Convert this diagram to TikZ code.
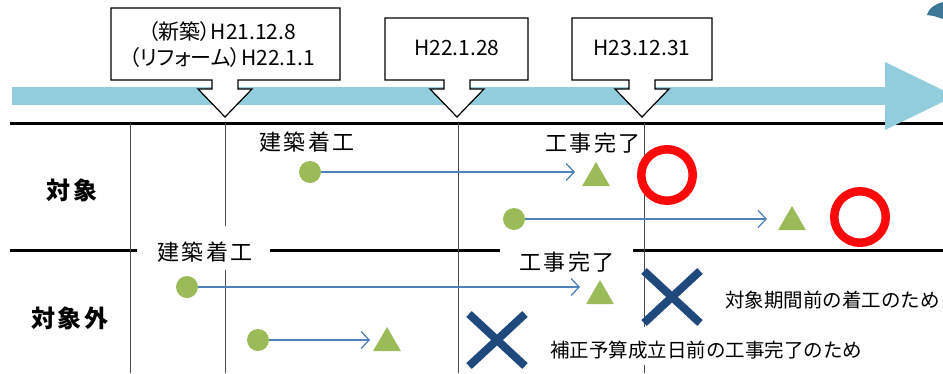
\documentclass[tikz,border=0pt]{standalone}
\usepackage{fontspec}
\setmainfont{Noto Sans CJK JP}
\newfontfamily\jpprop[RawFeature=+palt]{Noto Sans CJK JP}
\newfontfamily\jpwide[LetterSpace=10]{Noto Sans CJK JP}
\usetikzlibrary{positioning,calc,arrows.meta,shapes.geometric,shapes.misc}

\definecolor{bandblue}{RGB}{146,205,221}
\definecolor{dotgreen}{RGB}{155,187,89}
\definecolor{flowblue}{RGB}{79,129,189}
\definecolor{okred}{RGB}{250,10,10}
\definecolor{ngblue}{RGB}{31,73,125}
\definecolor{tagblue}{RGB}{60,120,150}

\tikzset{
	dot/.style={circle,fill=dotgreen,minimum size=22pt,inner sep=0pt},
	tri/.style={regular polygon,regular polygon sides=3,fill=dotgreen,minimum size=32pt,inner sep=0pt},
	okring/.style={circle,draw=okred,line width=8.5pt,minimum size=51.5pt,inner sep=0pt},
	ngcross/.style={cross out,draw=ngblue,line width=8pt,minimum width=48pt,minimum height=44pt,inner sep=0pt},
	flow/.style={draw=flowblue,line width=1.3pt,-{Straight Barb[length=8pt,width=17pt]}},
	lbl/.style={font=\jpwide\fontsize{22}{26}\selectfont,inner sep=0pt},
	note/.style={font=\fontsize{19.5}{23}\selectfont,inner sep=0pt,anchor=west},
	rowlbl/.style={font=\jpwide\fontsize{24}{28}\selectfont\bfseries,inner sep=0pt},
	datetxt/.style={font=\jpprop\fontsize{21}{26}\selectfont,align=center,inner sep=0pt},
	callout/.style={draw,fill=white,line width=1.2pt},
	sep/.style={line width=3pt},
	gridline/.style={draw=gray!60!black,line width=0.9pt}
}

\begin{document}
\begin{tikzpicture}[x=1pt,y=-1pt]
		\def\yBoxBot{80}
		\def\yStem{89}
		\def\yTip{117}
		\def\StemHalf{13}
		\def\HeadHalf{27}
		\def\yTop{123}
		\def\yMid{250}
		\def\yEnd{373}

\useasboundingbox (0,0) rectangle (943,373);

% separators and grid
\draw[sep] (10,\yTop) -- (943,\yTop);
\draw[sep] (10,\yMid) -- (137,\yMid);
\draw[sep] (270,\yMid) -- (500,\yMid);
\draw[sep] (633,\yMid) -- (943,\yMid);
\draw[gridline] (130,\yTop) -- (130,\yEnd);
\draw[gridline] (225,\yTop) -- (225,226) (225,270) -- (225,\yEnd);
\draw[gridline] (458,\yTop) -- (458,\yEnd);
\draw[gridline] (644,\yTop) -- (644,327) (644,365) -- (644,\yEnd);

% time band
\fill[bandblue] (12,87) rectangle (887,105);
\fill[bandblue] (885,62) -- (955,96) -- (885,130) -- cycle;
\fill[tagblue] (943,2) .. controls (935,4) and (928,9) .. (927,15) -- (934,16) .. controls (938,17) .. (943,19) -- cycle;

% date flags
\draw[callout] (111,8) -- (340,8) -- (340,\yBoxBot) -- (225+\StemHalf,\yBoxBot) -- (225+\StemHalf,\yStem) -- (225+\HeadHalf,\yStem) -- (225,\yTip) -- (225-\HeadHalf,\yStem) -- (225-\StemHalf,\yStem) -- (225-\StemHalf,\yBoxBot) -- (111,\yBoxBot) -- cycle;
\draw[callout] (385,18) -- (528,18) -- (528,\yBoxBot) -- (457+\StemHalf,\yBoxBot) -- (457+\StemHalf,\yStem) -- (457+\HeadHalf,\yStem) -- (457,\yTip) -- (457-\HeadHalf,\yStem) -- (457-\StemHalf,\yStem) -- (457-\StemHalf,\yBoxBot) -- (385,\yBoxBot) -- cycle;
\draw[callout] (572,18) -- (712,18) -- (712,\yBoxBot) -- (642+\StemHalf,\yBoxBot) -- (642+\StemHalf,\yStem) -- (642+\HeadHalf,\yStem) -- (642,\yTip) -- (642-\HeadHalf,\yStem) -- (642-\StemHalf,\yStem) -- (642-\StemHalf,\yBoxBot) -- (572,\yBoxBot) -- cycle;
\node[datetxt] (flagA) at (222,45) {（新築）H21.12.8\\（リフォーム）H22.1.1};
\node[datetxt] (flagB) at (457,48) {H22.1.28};
\node[datetxt] (flagC) at (642,48) {H23.12.31};

% row labels
\node[rowlbl] (inScope) at (72,190) {対象};
\node[rowlbl] (outScope) at (70,318) {対象外};
\node[lbl] (startA) at (307,142) {建築着工};
\node[lbl] (doneA) at (593,143) {工事完了};
\node[lbl] (startB) at (205,252) {建築着工};
\node[lbl] (doneB) at (567,262) {工事完了};

% cases
\node[dot] (d1) at (310,172) {};
\node[tri] (t1) at (596,178) {};
\coordinate (e1) at (575,172);
\draw[flow] (d1) -- (e1);
\node[okring] (ok1) at (667,175) {};

\node[dot] (d2) at (514,219) {};
\node[tri] (t2) at (792,222) {};
\coordinate (e2) at (767,219);
\draw[flow] (d2) -- (e2);
\node[okring] (ok2) at (860,217) {};

\node[dot] (d3) at (187,287) {};
\node[tri] (t3) at (600,296) {};
\coordinate (e3) at (580,287);
\draw[flow] (d3) -- (e3);
\node[ngcross] (ng1) at (672,297) {};
\node[note] (why1) at (725,300) {対象期間前の着工のため};

\node[dot] (d4) at (258,340) {};
\node[tri] (t4) at (387,343) {};
\coordinate (e4) at (370,340);
\draw[flow] (d4) -- (e4);
\node[ngcross] (ng2) at (497,340) {};
\node[note] (why2) at (550,350) {補正予算成立日前の工事完了のため};

\end{tikzpicture}
\end{document}
